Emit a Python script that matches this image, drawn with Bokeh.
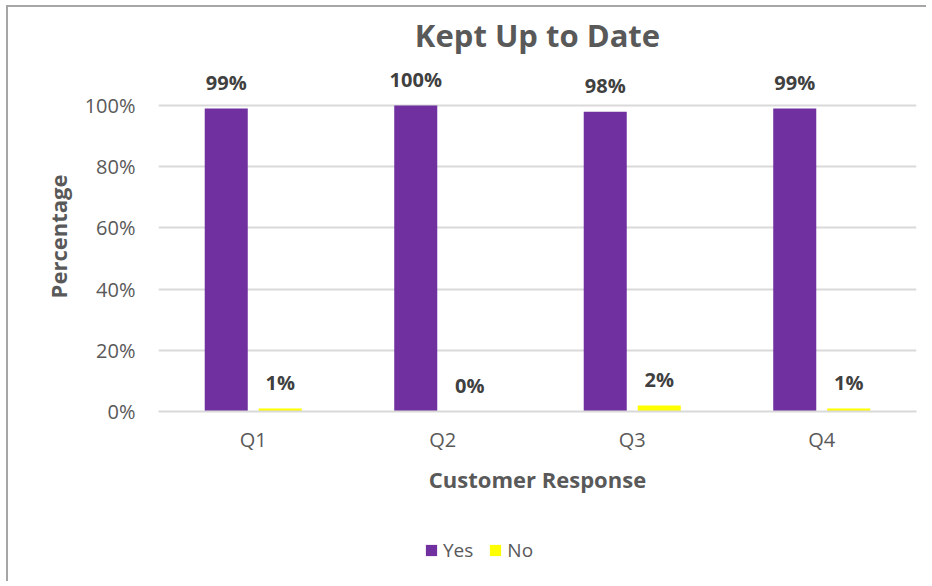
from bokeh.plotting import figure
from bokeh.layouts import column
from bokeh.models import ColumnDataSource, FactorRange, Range1d, FixedTicker, Legend, LegendItem, NumeralTickFormatter
from bokeh.transform import dodge
from bokeh.embed import file_html
from bokeh.resources import INLINE

categories = ["Q1", "Q2", "Q3", "Q4"]
series_names = ["Yes", "No"]
yes_values = [0.99, 1.00, 0.98, 0.99]
no_values = [0.01, 0.00, 0.02, 0.01]
y_ticks = [0, 0.2, 0.4, 0.6, 0.8, 1.0]
colors = ["#7030A0", "#FFFF00"]

FONT = "Open Sans"
src = ColumnDataSource(dict(
    cat=categories,
    yes=yes_values,
    no=no_values,
    yes_lbl=[f"{round(v*100)}%" for v in yes_values],
    no_lbl=[f"{round(v*100)}%" for v in no_values],
))

p = figure(x_range=FactorRange(*categories, range_padding=0), y_range=Range1d(0, 1.144),
           frame_width=758, frame_height=350, output_backend="svg", toolbar_location=None,
           min_border_left=150, min_border_right=10, min_border_top=53, min_border_bottom=100)
p.background_fill_color = "white"
p.border_fill_color = "white"
p.outline_line_color = None

p.title.text = "Kept Up to Date"
p.title.align = "center"
p.title.vertical_align = "middle"
p.title.text_font = FONT
p.title.text_font_size = "31px"
p.title.text_font_style = "bold"
p.title.text_color = "#595959"
p.title.standoff = 10

w = 0.227
for col, off, c in (("yes", -0.1425, colors[0]), ("no", 0.1425, colors[1])):
    p.vbar(x=dodge("cat", off, range=p.x_range), top=col, width=w, source=src,
           fill_color=c, line_color=None)
    p.text(x=dodge("cat", off, range=p.x_range), y=col, text=col + "_lbl", source=src,
           text_align="center", text_baseline="alphabetic", y_offset=-26,
           text_font={"value": FONT}, text_font_style="bold", text_font_size="20px",
           text_color="#404040")

p.yaxis.ticker = FixedTicker(ticks=y_ticks)
p.yaxis.formatter = NumeralTickFormatter(format="0%")
p.yaxis.axis_line_color = None
p.yaxis.major_tick_line_color = None
p.yaxis.minor_tick_line_color = None
p.yaxis.major_label_standoff = 17
p.yaxis.major_label_text_font = FONT
p.yaxis.major_label_text_font_size = "20px"
p.yaxis.major_label_text_color = "#595959"
p.yaxis.axis_label = "Percentage"
p.yaxis.axis_label_text_font = FONT
p.yaxis.axis_label_text_font_size = "22px"
p.yaxis.axis_label_text_font_style = "bold"
p.yaxis.axis_label_text_color = "#595959"
p.yaxis.axis_label_standoff = 9

p.xaxis.axis_line_color = "#D9D9D9"
p.xaxis.axis_line_width = 2
p.xaxis.major_tick_line_color = None
p.xaxis.minor_tick_line_color = None
p.xaxis.major_label_standoff = 8
p.xaxis.major_label_text_font = FONT
p.xaxis.major_label_text_font_size = "20px"
p.xaxis.major_label_text_color = "#595959"
p.xaxis.axis_label = "Customer Response"
p.xaxis.axis_label_text_font = FONT
p.xaxis.axis_label_text_font_size = "22px"
p.xaxis.axis_label_text_font_style = "bold"
p.xaxis.axis_label_text_color = "#595959"
p.xaxis.axis_label_standoff = 8

p.xgrid.grid_line_color = None
p.ygrid.grid_line_color = "#D9D9D9"
p.ygrid.grid_line_width = 2

# legend strip below the chart (series drawn off-view so only the legend shows)
p2 = figure(x_range=FactorRange(*categories), y_range=Range1d(10, 11),
            width=918, height=70, output_backend="svg", toolbar_location=None,
            min_border_left=0, min_border_right=0, min_border_top=0, min_border_bottom=0)
p2.axis.visible = False
p2.grid.visible = False
p2.outline_line_color = None
p2.background_fill_color = "white"
p2.border_fill_color = "white"
items = []
for name, vals, c in zip(series_names, (yes_values, no_values), colors):
    r = p2.vbar(x=categories, top=vals, width=0.2, fill_color=c, line_color=None)
    items.append(LegendItem(label=name, renderers=[r]))

legend = Legend(items=items, orientation="horizontal", location=(266, 18), border_line_color=None,
                background_fill_alpha=0,
                glyph_width=14, glyph_height=14, label_standoff=5, spacing=15,
                label_text_font=FONT, label_text_font_size="19px", label_text_color="#595959",
                margin=0, padding=0)
p2.add_layout(legend, "center")

layout = column(p, p2, spacing=0,
                styles={"border-left": "2px solid #A6A6A6", "border-top": "2px solid #A6A6A6",
                        "margin-left": "6px", "margin-top": "5px", "background": "white"})

open("out.html", "w").write(file_html(layout, INLINE))
